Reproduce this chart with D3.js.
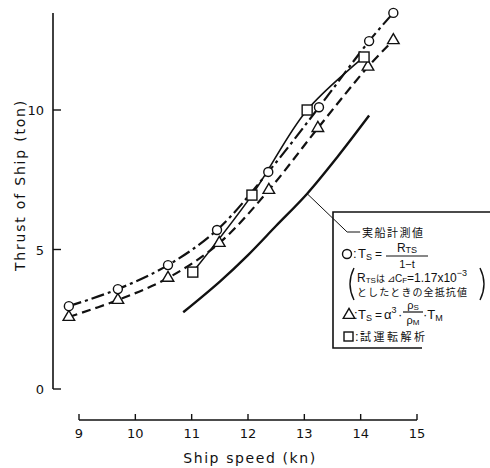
<!DOCTYPE html>
<html>
<head>
<meta charset="utf-8">
<script src="https://cdn.jsdelivr.net/npm/d3@7"></script>
<style>
  html, body { margin: 0; padding: 0; background: #fff; }
  svg { display: block; }
  text { fill: #111; }
</style>
</head>
<body>
<svg id="chart" width="490" height="468"></svg>
<script>
// Thrust of ship vs. ship speed
const xTicks = [9, 10, 11, 12, 13, 14, 15];
const yTicks = [0, 5, 10];

// ○ : T_S = R_TS / (1 - t)
const speedCircle  = [8.82, 9.69, 10.58, 11.45, 12.36, 13.26, 14.15, 14.58];
const thrustCircle = [2.97, 3.58, 4.44, 5.70, 7.78, 10.10, 12.47, 13.48];

// △ : T_S = α³ · ρS/ρM · T_M
const speedTriangle  = [8.82, 9.69, 10.58, 11.49, 12.37, 13.24, 14.13, 14.58];
const thrustTriangle = [2.58, 3.19, 3.98, 5.23, 7.13, 9.35, 11.55, 12.50];

// □ : 試運転解析
const speedSquare  = [11.02, 12.07, 13.05, 14.06];
const thrustSquare = [4.19, 6.95, 10.00, 11.90];

// 実船計測値 (measured on the full-scale ship)
const speedMeasured  = [10.85, 11.5, 12.0, 12.5, 13.05, 13.6, 14.15];
const thrustMeasured = [2.75, 3.85, 4.80, 5.85, 7.00, 8.35, 9.80];

const svg = d3.select("#chart");
const x = d3.scaleLinear().domain([9, 15]).range([79, 417]);
const y = d3.scaleLinear().domain([0, 10]).range([389, 110]);

const zip = (a, b) => a.map((v, i) => [v, b[i]]);
const line = d3.line().x(d => x(d[0])).y(d => y(d[1])).curve(d3.curveCatmullRom.alpha(0.5));

// Y axis (inward ticks), line running up to the top of the plot
const yAxis = svg.append("g").attr("transform", `translate(${x(9) - 26},0)`);
yAxis.append("line").attr("x1", 0).attr("x2", 0).attr("y1", y(0)).attr("y2", 13)
  .attr("stroke", "#111").attr("stroke-width", 1.6);
yAxis.selectAll("line.tick").data(yTicks).join("line").attr("class", "tick")
  .attr("x1", 0).attr("x2", 8).attr("y1", d => y(d)).attr("y2", d => y(d))
  .attr("stroke", "#111").attr("stroke-width", 1.4);
yAxis.selectAll("text.tl").data(yTicks).join("text").attr("class", "tl")
  .attr("x", -9).attr("y", d => y(d) + 5).attr("text-anchor", "end")
  .attr("font-family", "DejaVu Sans, sans-serif").attr("font-size", 13)
  .text(d => d);

svg.append("text")
  .attr("transform", `translate(25,${185}) rotate(-90)`)
  .attr("text-anchor", "middle")
  .attr("font-family", "DejaVu Sans, sans-serif").attr("font-size", 14)
  .attr("letter-spacing", 1.8)
  .text("Thrust  of  Ship   (ton)");

// X axis, detached below the plot, ticks pointing up
const axisY = 420;
const xAxis = svg.append("g");
xAxis.append("line").attr("x1", x(9)).attr("x2", x(15)).attr("y1", axisY).attr("y2", axisY)
  .attr("stroke", "#111").attr("stroke-width", 1.6);
xAxis.selectAll("line.tick").data(xTicks).join("line").attr("class", "tick")
  .attr("x1", d => x(d)).attr("x2", d => x(d)).attr("y1", axisY).attr("y2", axisY - 6)
  .attr("stroke", "#111").attr("stroke-width", 1.4);
xAxis.selectAll("text.tl").data(xTicks).join("text").attr("class", "tl")
  .attr("x", d => x(d)).attr("y", 438).attr("text-anchor", "middle")
  .attr("font-family", "DejaVu Sans, sans-serif").attr("font-size", 13)
  .text(d => d);
svg.append("text").attr("x", 250).attr("y", 463).attr("text-anchor", "middle")
  .attr("font-family", "DejaVu Sans, sans-serif").attr("font-size", 14)
  .attr("letter-spacing", 1.6)
  .text("Ship  speed   (kn)");

// Series lines
svg.append("path").datum(zip(speedMeasured, thrustMeasured)).attr("d", line)
  .attr("fill", "none").attr("stroke", "#111").attr("stroke-width", 2.4);
svg.append("path").datum(zip(speedSquare, thrustSquare)).attr("d", line)
  .attr("fill", "none").attr("stroke", "#111").attr("stroke-width", 1.6);
svg.append("path").datum(zip(speedCircle, thrustCircle)).attr("d", line)
  .attr("fill", "none").attr("stroke", "#111").attr("stroke-width", 2.2)
  .attr("stroke-dasharray", "13,4,3,4");
svg.append("path").datum(zip(speedTriangle, thrustTriangle)).attr("d", line)
  .attr("fill", "none").attr("stroke", "#111").attr("stroke-width", 2.2)
  .attr("stroke-dasharray", "9,5");

// Markers
const mk = svg.append("g").attr("fill", "#fff").attr("stroke", "#111").attr("stroke-width", 1.4);
mk.selectAll("path.tri").data(zip(speedTriangle, thrustTriangle)).join("path").attr("class", "tri")
  .attr("transform", d => `translate(${x(d[0])},${y(d[1])})`)
  .attr("d", d3.symbol().type(d3.symbolTriangle).size(58));
mk.selectAll("rect.sq").data(zip(speedSquare, thrustSquare)).join("rect").attr("class", "sq")
  .attr("x", d => x(d[0]) - 5).attr("y", d => y(d[1]) - 5).attr("width", 10).attr("height", 10);
mk.selectAll("circle.c").data(zip(speedCircle, thrustCircle)).join("circle").attr("class", "c")
  .attr("cx", d => x(d[0])).attr("cy", d => y(d[1])).attr("r", 4.5);

// Leader from the measured curve to the legend
const lx = x(13.05), ly = y(7.0);
svg.append("polyline")
  .attr("points", `${lx},${ly} ${lx + 40},232 ${lx + 53},232`)
  .attr("fill", "none").attr("stroke", "#111").attr("stroke-width", 1);

// Legend box
const lg = svg.append("g");
lg.append("path").attr("d", "M490,212 L333,212 L333,348 L422,348")
  .attr("fill", "none").attr("stroke", "#111").attr("stroke-width", 1.6);

const jp = "'Noto Sans CJK JP', sans-serif";
const lat = "'Liberation Sans', Arial, sans-serif";
const T = (xx, yy, s, size, fam, anchor) => lg.append("text").attr("x", xx).attr("y", yy)
  .attr("font-size", size || 12).attr("font-family", fam || lat)
  .attr("text-anchor", anchor || "start").text(s);
const hline = (x1, x2, yy) => lg.append("line").attr("x1", x1).attr("x2", x2)
  .attr("y1", yy).attr("y2", yy).attr("stroke", "#111").attr("stroke-width", 1.2);

T(362, 237, "実船計測値", 11, jp).attr("letter-spacing", 1.5);

// ○ row
lg.append("circle").attr("cx", 347).attr("cy", 254).attr("r", 4.5)
  .attr("fill", "#fff").attr("stroke", "#111").attr("stroke-width", 1.4);
T(353, 258, ":", 13);
let t = T(358, 258, "T", 13); t.append("tspan").attr("font-size", 9).attr("dy", 2).text("S");
T(375, 258, "=", 12);
t = T(407, 252, "R", 12, lat, "middle"); t.append("tspan").attr("font-size", 9).attr("dy", 1).text("TS");
hline(386, 428, 256);
T(407, 268, "1−t", 11, lat, "middle");

// Note row, enclosed in tall brackets
lg.append("path").attr("d", "M354,268 Q346,284 354,300")
  .attr("fill", "none").attr("stroke", "#111").attr("stroke-width", 1.4);
lg.append("path").attr("d", "M480,268 Q488,284 480,300")
  .attr("fill", "none").attr("stroke", "#111").attr("stroke-width", 1.4);
t = T(357, 282, "R", 12);
t.append("tspan").attr("font-size", 8).attr("dy", 1).text("TS");
t.append("tspan").attr("font-size", 9).attr("dy", -1).attr("font-family", jp).text("は");
t.append("tspan").attr("font-size", 10).attr("dx", 2).text("⊿C");
t.append("tspan").attr("font-size", 8).attr("dy", 1).text("F");
t.append("tspan").attr("font-size", 12).attr("dy", -1).text("=1.17x10");
t.append("tspan").attr("font-size", 9).attr("dy", -6).text("−3");
T(357, 296, "としたときの全抵抗値", 10, jp).attr("letter-spacing", 1.1);

// △ row
lg.append("path").attr("transform", "translate(349,315)")
  .attr("d", d3.symbol().type(d3.symbolTriangle).size(58))
  .attr("fill", "#fff").attr("stroke", "#111").attr("stroke-width", 1.4);
T(354, 319, ":", 13);
t = T(358, 319, "T", 13); t.append("tspan").attr("font-size", 9).attr("dy", 2).text("S");
T(375, 319, "=", 12);
t = T(384, 319, "α", 13); t.append("tspan").attr("font-size", 9).attr("dy", -6).text("3");
T(398, 319, "·", 13);
t = T(413, 309, "ρ", 11, lat, "middle"); t.append("tspan").attr("font-size", 8).attr("dy", 1).text("S");
hline(403, 423, 312);
t = T(413, 324, "ρ", 11, lat, "middle"); t.append("tspan").attr("font-size", 8).attr("dy", 1).text("M");
t = T(423, 319, "·T", 13); t.append("tspan").attr("font-size", 9).attr("dy", 2).text("M");

// □ row
lg.append("rect").attr("x", 344).attr("y", 332).attr("width", 9).attr("height", 9)
  .attr("fill", "#fff").attr("stroke", "#111").attr("stroke-width", 1.4);
T(355, 341, ":", 13);
T(360, 341, "試運転解析", 11, jp).attr("letter-spacing", 2.5);
</script>
</body>
</html>
